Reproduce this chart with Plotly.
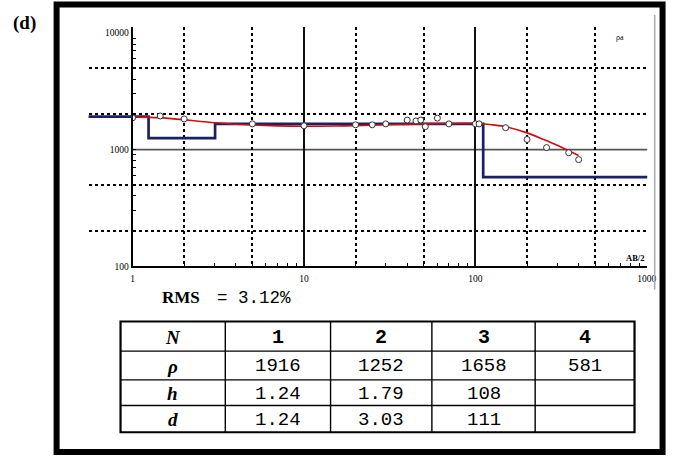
import plotly.graph_objects as go

W, H = 675, 461

# Field sounding: half electrode spacing AB/2 (m) and apparent resistivity (Ohm.m)
ab2_obs = [1.0, 1.45, 2.0, 5.0, 10, 20, 25, 30, 40, 45, 48, 51, 60, 70, 100, 105, 150, 200, 260, 350, 400]
rho_obs = [1870, 1940, 1830, 1660, 1600, 1630, 1630, 1660, 1790, 1760, 1790, 1570, 1860, 1660, 1660, 1660, 1540, 1220, 1040, 940, 820]

# Calculated response of the fitted model
ab2_calc = [1, 1.5, 2, 3, 5, 7, 10, 15, 20, 30, 50, 70, 100, 130, 150, 200, 250, 300, 400]
rho_calc = [1905, 1870, 1800, 1700, 1625, 1595, 1585, 1590, 1605, 1630, 1660, 1675, 1675, 1620, 1570, 1390, 1220, 1090, 890]

# Layered model
layer_n = [1, 2, 3, 4]
layer_rho = [1916, 1252, 1658, 581]
layer_h = [1.24, 1.79, 108]
layer_d = [1.24, 3.03, 111]
rms_value = "3.12%"

x_ticks = [1, 10, 100, 1000]
y_ticks = [100, 1000, 10000]
x_dotted = [2, 5, 20, 50, 200, 500]
y_dotted = [200, 500, 2000, 5000]
x_minor = [k * 10 ** e for e in range(3) for k in range(2, 10)]
y_minor = [k * 10 ** e for e in (2, 3) for k in range(2, 10)]

# Step curve of the model (resistivity against depth)
step_x, step_y = [0.1], [layer_rho[0]]
for i, d in enumerate(layer_d):
    step_x += [d, d]
    step_y += [layer_rho[i], layer_rho[i + 1]]
step_x.append(1e4)
step_y.append(layer_rho[-1])


def fx(px):
    return px / W


def fy(py):
    return 1 - py / H


# plot frame in pixels
PL, PR, PT, PB = 132.7, 655.9, 26.8, 269.1
dec_x = (PR - PL) / 3.0
y_lo = 2.0
dec_y = 117.9
y_hi = y_lo + (PB - PT) / dec_y
x_ext = 88  # model line continues left of the axis

NAVY = "#1b1f66"
RED = "#c81010"

fig = go.Figure()

# model line left of the y axis (own narrow axis so it keeps the same scale)
fig.add_trace(go.Scatter(x=step_x, y=step_y, xaxis="x2", yaxis="y", mode="lines",
                         line=dict(color=NAVY, width=2.7), hoverinfo="skip", showlegend=False))
fig.add_trace(go.Scatter(x=step_x, y=step_y, mode="lines",
                         line=dict(color=NAVY, width=2.7), showlegend=False))
fig.add_trace(go.Scatter(x=ab2_calc, y=rho_calc, mode="lines",
                         line=dict(color=RED, width=1.6, shape="spline", smoothing=0.6),
                         showlegend=False))
fig.add_trace(go.Scatter(x=ab2_obs, y=rho_obs, mode="markers",
                         marker=dict(symbol="circle", size=6, color="white",
                                     line=dict(color="#333333", width=1)),
                         showlegend=False))
# carrier for the overlay tick axes
fig.add_trace(go.Scatter(x=[None], y=[None], xaxis="x3", yaxis="y2", showlegend=False, hoverinfo="skip"))

tick_font = dict(family="Liberation Serif", size=9.5, color="black")

# ---- results table, drawn with lines and text ----
col_edges = [120.5, 227, 334, 437, 542, 643]
row_edges = [325, 355, 384, 410, 437]
row_labels = ["<b><i>N</i></b>", "<b><i>ρ</i></b>", "<b><i>h</i></b>", "<b><i>d</i></b>"]
table_rows = [
    [f"<b>{n}</b>" for n in layer_n],
    [f"{v:g}" for v in layer_rho],
    [f"{v:g}" for v in layer_h] + [""] * (4 - len(layer_h)),
    [f"{v:g}" for v in layer_d] + [""] * (4 - len(layer_d)),
]

shapes = []
annotations = []
for xe in col_edges[1:-1]:
    shapes.append(dict(type="line", xref="paper", yref="paper", x0=fx(xe), x1=fx(xe),
                       y0=fy(row_edges[-1]), y1=fy(row_edges[0]),
                       line=dict(color="black", width=1.4)))
for ye in row_edges[1:-1]:
    shapes.append(dict(type="line", xref="paper", yref="paper", x0=fx(col_edges[0]), x1=fx(col_edges[-1]),
                       y0=fy(ye), y1=fy(ye), line=dict(color="black", width=1.4)))
shapes.append(dict(type="rect", xref="paper", yref="paper", x0=fx(col_edges[0]), x1=fx(col_edges[-1]),
                   y0=fy(row_edges[-1]), y1=fy(row_edges[0]), line=dict(color="black", width=2.2)))

for r in range(4):
    yc = (row_edges[r] + row_edges[r + 1]) / 2
    annotations.append(dict(text=row_labels[r], x=fx((col_edges[0] + col_edges[1]) / 2), y=fy(yc + 1),
                            xref="paper", yref="paper", showarrow=False,
                            xanchor="center", yanchor="middle",
                            font=dict(family="Liberation Serif", size=19, color="black")))
    for c in range(4):
        txt = table_rows[r][c]
        if not txt:
            continue
        annotations.append(dict(text=txt, x=fx((col_edges[c + 1] + col_edges[c + 2]) / 2), y=fy(yc + 1),
                                xref="paper", yref="paper", showarrow=False,
                                xanchor="center", yanchor="middle",
                                font=dict(family="Liberation Mono", size=20 if r == 0 else 19,
                                          color="black")))

shapes += [
    # horizontal decade line at 1000
    dict(type="line", xref="x domain", yref="y", x0=0, x1=1, y0=1000, y1=1000,
         line=dict(color="#555555", width=1.8), layer="below"),
    # thin grey window edge
    dict(type="line", xref="paper", yref="paper", x0=fx(663.5), x1=fx(663.5),
         y0=fy(15), y1=fy(293), line=dict(color="#aaaaaa", width=1.5)),
    # outer frame
    dict(type="rect", xref="paper", yref="paper", x0=fx(55.5), x1=fx(671.5),
         y0=fy(457), y1=fy(4.5), line=dict(color="black", width=6)),
]

annotations += [
    dict(text="<b>(d)</b>", x=fx(9), y=fy(23), xref="paper", yref="paper",
         xanchor="left", yanchor="middle", showarrow=False,
         font=dict(family="Liberation Serif", size=19, color="black")),
    dict(text="<b>RMS</b>", x=fx(161), y=fy(301), xref="paper", yref="paper",
         xanchor="left", yanchor="middle", showarrow=False,
         font=dict(family="Liberation Serif", size=17, color="black")),
    dict(text="= " + rms_value, x=fx(216.5), y=fy(301), xref="paper", yref="paper",
         xanchor="left", yanchor="middle", showarrow=False,
         font=dict(family="Liberation Mono", size=17.5, color="black")),
    dict(text="ρa", x=fx(628), y=fy(38), xref="paper", yref="paper",
         xanchor="center", yanchor="middle", showarrow=False,
         font=dict(family="Liberation Serif", size=8, color="black")),
    dict(text="<b>AB/2</b>", x=fx(655), y=fy(261), xref="paper", yref="paper",
         xanchor="right", yanchor="middle", showarrow=False,
         font=dict(family="Liberation Serif", size=8.5, color="black")),
]

fig.update_layout(
    width=W, height=H,
    margin=dict(l=0, r=0, t=0, b=0),
    paper_bgcolor="white", plot_bgcolor="white",
    xaxis=dict(
        type="log", domain=[fx(PL), fx(PR)], range=[0, 3.002], anchor="y",
        tickvals=x_ticks, ticktext=[str(v) for v in x_ticks], tickfont=tick_font,
        ticklabelstandoff=2,
        ticks="", showline=True, linecolor="black", linewidth=2,
        showgrid=True, gridcolor="#111111", gridwidth=1.6,
        minor=dict(tickvals=x_dotted, showgrid=True, gridcolor="black", gridwidth=2,
                   griddash="dot", ticks=""),
        zeroline=False,
    ),
    xaxis2=dict(
        type="log", domain=[fx(x_ext), fx(PL)], range=[-(PL - x_ext) / dec_x, 0],
        anchor="y", visible=False, showgrid=False,
    ),
    xaxis3=dict(
        type="log", overlaying="x", range=[0, 3.002], anchor="y2",
        tickvals=x_minor, ticks="inside", ticklen=3, tickcolor="black", tickwidth=1,
        showticklabels=False, showgrid=False, showline=False, zeroline=False,
    ),
    yaxis=dict(
        type="log", domain=[fy(PB), fy(PT)], range=[y_lo, y_hi], anchor="x",
        tickvals=y_ticks, ticktext=[str(v) for v in y_ticks], tickfont=tick_font,
        ticks="", showline=True, linecolor="black", linewidth=2, showgrid=False,
        minor=dict(tickvals=y_dotted, showgrid=True, gridcolor="black", gridwidth=2,
                   griddash="dot", ticks=""),
        zeroline=False,
    ),
    yaxis2=dict(
        type="log", overlaying="y", range=[y_lo, y_hi], anchor="x3",
        tickvals=[1000] + y_minor, ticks="inside", ticklen=3, tickcolor="black", tickwidth=1,
        showticklabels=False, showgrid=False, showline=False, zeroline=False,
    ),
    shapes=shapes,
    annotations=annotations,
)

fig.write_html("out.html")
